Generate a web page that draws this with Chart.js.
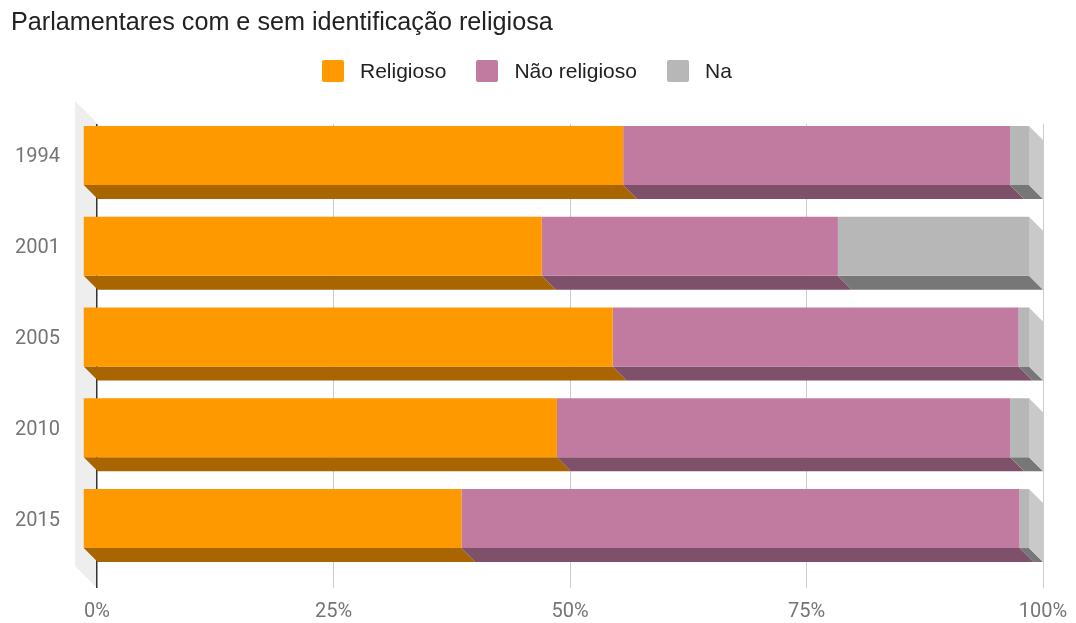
<!DOCTYPE html>
<html>
<head>
<meta charset="utf-8">
<script src="https://cdn.jsdelivr.net/npm/chart.js@4.4.1/dist/chart.umd.min.js"></script>
<style>
  html, body { margin: 0; padding: 0; background: #fff; }
  #wrap { position: relative; width: 1076px; height: 623px; }
  #title {
    position: absolute; left: 11px; top: 6px;
    font: 25.2px/30px "Liberation Sans", Arial, sans-serif; color: #222;
  }
  #legend {
    position: absolute; left: 322px; top: 59px;
    display: flex; align-items: center;
    font: 21px/24px "Liberation Sans", Arial, sans-serif; color: #222;
  }
  #legend .item { display: flex; align-items: center; margin-right: 30px; }
  #legend .box { width: 22px; height: 22px; border-radius: 2px; margin-right: 16px; }
  canvas { position: absolute; left: 0; top: 0; }
</style>
</head>
<body>
<div id="wrap">
  <canvas id="chart" width="1076" height="623"></canvas>
  <div id="title">Parlamentares com e sem identificação religiosa</div>
  <div id="legend"></div>
</div>
<script>
const years = ['1994', '2001', '2005', '2010', '2015'];
const religioso = [57.1, 48.5, 56.0, 50.1, 40.0];
const naoReligioso = [40.9, 31.3, 42.9, 47.9, 59.0];
const na = [2.0, 20.2, 1.1, 2.0, 1.0];
const xTicks = [0, 25, 50, 75, 100];

const seriesNames = ['Religioso', 'Não religioso', 'Na'];
const faceColors = ['#ff9900', '#c27ba0', '#b7b7b7'];
const bottomColors = ['#a86500', '#7f5069', '#777777'];
const sideColor = '#c9c9c9';

const DEPTH = 14; // how far the bars stick out towards the viewer
const WALL = 22;  // depth of the grey wall behind the 0% line

function fillPoly(ctx, pts, color) {
  ctx.fillStyle = color;
  ctx.beginPath();
  ctx.moveTo(pts[0][0], pts[0][1]);
  for (let i = 1; i < pts.length; i++) ctx.lineTo(pts[i][0], pts[i][1]);
  ctx.closePath();
  ctx.fill();
}

// fake 3d: wall on the left, bottom/side faces, front faces pushed up-left
const depthPlugin = {
  id: 'depth',
  beforeDraw(chart) {
    const { ctx, chartArea: a } = chart;
    const bottom = a.bottom + 10;
    ctx.save();
    fillPoly(ctx, [
      [a.left - WALL, a.top - 1 - WALL],
      [a.left, a.top - 1],
      [a.left, bottom],
      [a.left - WALL, bottom - WALL]
    ], '#eeeeee');
    ctx.restore();
  },
  beforeDatasetsDraw(chart) {
    const ctx = chart.ctx;
    const last = chart.data.datasets.length - 1;
    ctx.save();
    chart.data.datasets.forEach((ds, i) => {
      chart.getDatasetMeta(i).data.forEach(bar => {
        const { x, base, y, height } = bar.getProps(['x', 'base', 'y', 'height'], true);
        const yt = y - height / 2;
        const yb = y + height / 2;
        fillPoly(ctx, [
          [base - DEPTH, yb - DEPTH],
          [x - DEPTH, yb - DEPTH],
          [x, yb],
          [base, yb]
        ], ds.bottomColor);
        if (i === last) {
          fillPoly(ctx, [
            [x - DEPTH, yt - DEPTH],
            [x, yt],
            [x, yb],
            [x - DEPTH, yb - DEPTH]
          ], sideColor);
        }
      });
    });
    ctx.restore();
    ctx.save();
    ctx.translate(-DEPTH, -DEPTH);
  },
  afterDatasetsDraw(chart) {
    chart.ctx.restore();
  }
};

const series = [religioso, naoReligioso, na];
const datasets = series.map((values, i) => ({
  label: seriesNames[i],
  data: values,
  backgroundColor: faceColors[i],
  bottomColor: bottomColors[i],
  borderWidth: 0,
  barPercentage: 0.65,
  categoryPercentage: 1
}));

document.getElementById('legend').innerHTML = seriesNames.map((name, i) =>
  `<span class="item"><span class="box" style="background:${faceColors[i]}"></span>${name}</span>`
).join('');

const tickFont = { family: 'Roboto', size: 20 };
const gridColor = c => (c.tick && c.tick.value === 0 ? '#333333' : '#cccccc');

new Chart(document.getElementById('chart'), {
  type: 'bar',
  data: { labels: years, datasets },
  plugins: [depthPlugin],
  options: {
    indexAxis: 'y',
    responsive: false,
    animation: false,
    layout: { padding: { top: 124, right: 33, left: 0, bottom: 0 } },
    plugins: {
      legend: { display: false },
      title: { display: false },
      tooltip: { enabled: false }
    },
    scales: {
      x: {
        stacked: true,
        min: 0,
        max: 100,
        afterBuildTicks: s => { s.ticks = xTicks.map(v => ({ value: v })); },
        // fixed box: no extra room for the edge labels
        afterFit: s => { s.height = 45; s.paddingLeft = 0; s.paddingRight = 0; },
        border: { display: false },
        grid: {
          color: gridColor,
          tickColor: gridColor,
          lineWidth: c => (c.tick && c.tick.value === 0 ? 1.5 : 1),
          tickLength: 10
        },
        ticks: {
          callback: v => v + '%',
          color: '#757575',
          font: tickFont,
          padding: 12,
          maxRotation: 0
        }
      },
      y: {
        stacked: true,
        afterFit: s => { s.width = 97; s.paddingTop = 0; s.paddingBottom = 0; },
        border: { display: false },
        grid: { display: false, drawTicks: false },
        ticks: {
          color: '#757575',
          font: tickFont,
          padding: 37,
          labelOffset: -12
        }
      }
    }
  }
});
</script>
</body>
</html>
